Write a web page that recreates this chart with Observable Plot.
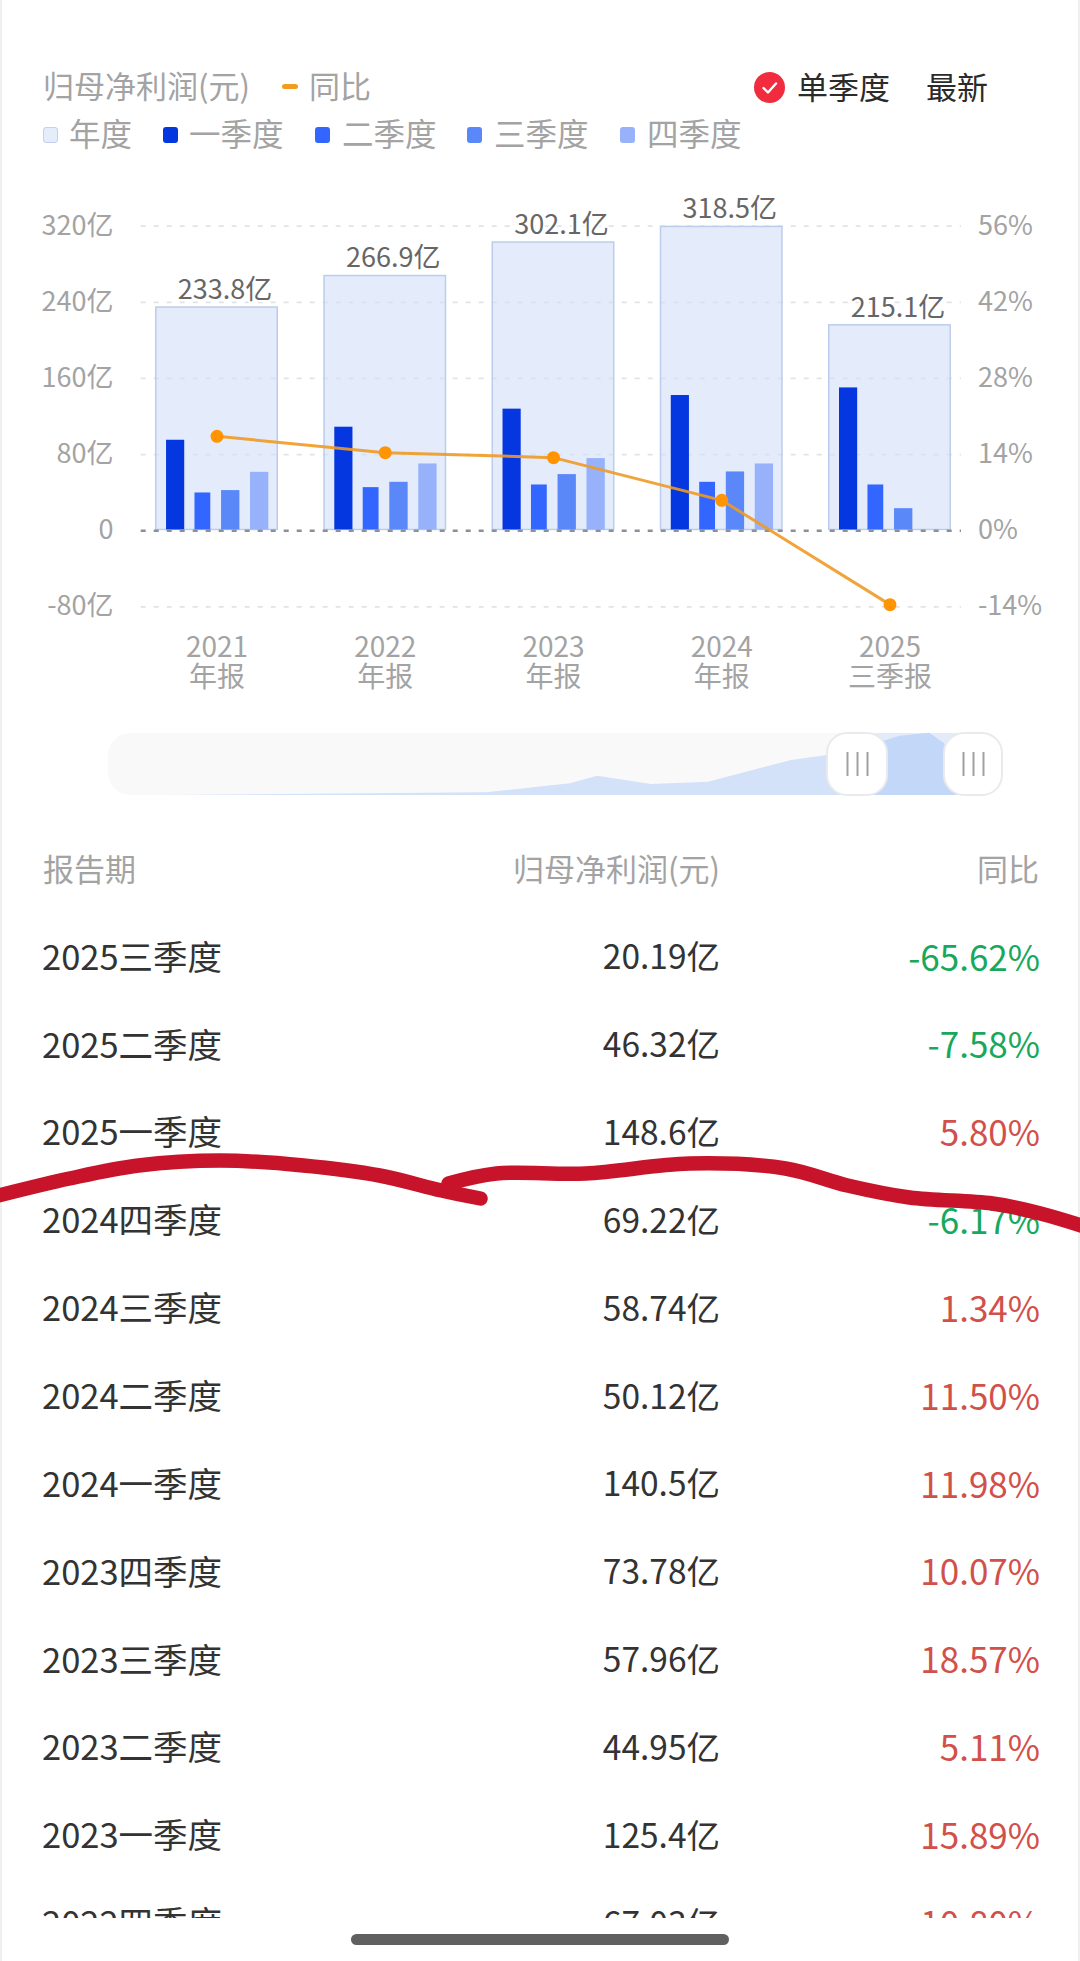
<!DOCTYPE html>
<html lang="zh">
<head>
<meta charset="utf-8">
<script src="https://cdn.jsdelivr.net/npm/d3@7"></script>
<script src="https://cdn.jsdelivr.net/npm/@observablehq/plot@0.6"></script>
<style>
html,body{margin:0;padding:0;background:#fff;}
body{position:relative;width:1080px;height:1961px;overflow:hidden;font-family:"Noto Sans CJK SC","Noto Sans",sans-serif;}
.abs{position:absolute;white-space:nowrap;line-height:1;}
.plot{position:absolute;display:block;}
svg{overflow:visible;}
</style>
</head>
<body>
<div id="page"></div>
<script>
// chart data
const years = ["2021","2022","2023","2024","2025"];
const reports = ["年报","年报","年报","年报","三季报"];
const yearTotals = [233.8,266.9,302.1,318.5,215.1];
const q1 = [94.3,108,127,141.3,149.3];
const q2 = [38.9,44.5,47.3,50.1,47.3];
const q3 = [41.4,50.1,58.2,61,22.4];
const q4 = [60.6,69.4,75,69.4,null];
const yoy = [17.36,14.35,13.43,5.58,-13.6];
const leftTicks = [-80,0,80,160,240,320];
const rightTicks = [-14,0,14,28,42,56];
// table data
const periods = ["2025三季度","2025二季度","2025一季度","2024四季度","2024三季度","2024二季度","2024一季度","2023四季度","2023三季度","2023二季度","2023一季度","2022四季度"];
const profits = ["20.19亿","46.32亿","148.6亿","69.22亿","58.74亿","50.12亿","140.5亿","73.78亿","57.96亿","44.95亿","125.4亿","67.03亿"];
const changes = ["-65.62%","-7.58%","5.80%","-6.17%","1.34%","11.50%","11.98%","10.07%","18.57%","5.11%","15.89%","10.80%"];
// range-slider overview silhouette
const navPos = [60,378,462,489,543,600,683,719,749,776,791,821,836,848];
const navVal = [0,2.7,11.7,19.3,11,13.3,35,40,47,54.3,59,62.3,51.7,0];
const navStart = 749, navEnd = 865;
// hand-drawn annotation
const scribbleAX = [-10,69,138,220,303,379,441,480];
const scribbleAY = [1197,1178,1165,1160,1165,1175,1190,1198];
const scribbleBX = [448,496,585,689,785,847,909,992,1040,1090];
const scribbleBY = [1183,1173,1173,1163,1168,1185,1197,1203,1213,1228];

const FONT = '"Noto Sans CJK SC","Noto Sans",sans-serif';
const page = document.getElementById("page");
function put(txt,o){
  const d=document.createElement("div");d.className="abs";d.textContent=txt;
  let s=`font-size:${o.size}px;color:${o.color};top:${o.cy-o.size/2}px;`;
  if(o.right!=null) s+=`right:${1080-o.right}px;`; else s+=`left:${o.left}px;`;
  d.style.cssText=s;page.appendChild(d);return d;
}
function box(css){const d=document.createElement("div");d.className="abs";d.style.cssText=css;page.appendChild(d);return d;}

// page edges
box("left:0;top:0;width:1.5px;height:1961px;background:#efefef");
box("left:1078px;top:0;width:1.5px;height:1961px;background:#efefef");

// header / legend
put("归母净利润(元)",{size:31,color:"#a3a3a3",left:43,cy:84});
box("left:282px;top:84px;width:16px;height:5px;border-radius:2.5px;background:#f39c1f");
put("同比",{size:31,color:"#a3a3a3",left:309,cy:84});
const badge=box("left:754px;top:72px;width:31px;height:31px;border-radius:50%;background:#f02c3e");
badge.innerHTML='<svg width="31" height="31" style="display:block"><polyline points="9.5,16 14,20.5 22,11.5" fill="none" stroke="#fff" stroke-width="2.4" stroke-linecap="round" stroke-linejoin="round"/></svg>';
put("单季度",{size:31,color:"#2b2b2b",left:797,cy:85.5});
put("最新",{size:31,color:"#2b2b2b",left:926,cy:85.5});
const legendNames=["年度","一季度","二季度","三季度","四季度"];
const legendColors=["#e5edfb","#0437e0","#3366ff","#5b88f8","#97b2fb"];
const legendSwatchX=[43,163,315,467,620];
const legendTextX=[69,189,342,494,647];
legendNames.forEach((n,i)=>{
  box(`left:${legendSwatchX[i]}px;top:127px;width:15px;height:16px;border-radius:3px;background:${legendColors[i]};box-sizing:border-box;${i==0?"border:1.5px solid #c0d0ee;":""}`);
  put(n,{size:31.5,color:"#a3a3a3",left:legendTextX[i],cy:133});
});

// main chart
const pctToY = p => p*320/56;
const rows = years.map((y,i)=>({i,total:yearTotals[i],q:[q1[i],q2[i],q3[i],q4[i]],yoy:yoy[i]}));
const qOffsets=[-0.30,-0.131,0.027,0.199];
const qWidths=[0.108,0.094,0.109,0.109];
const qColors=["#0437e0","#3366ff","#5b88f8","#97b2fb"];
const qData = rows.flatMap(r=>r.q.map((v,k)=>({i:r.i,k,v})).filter(d=>d.v!=null));
const yearHalf = 0.361;
const main = Plot.plot({
  width:1080,height:500,
  marginTop:25.7,marginBottom:93.7,marginLeft:140.7,marginRight:119,
  style:{fontFamily:FONT,background:"transparent",overflow:"visible"},
  x:{type:"linear",domain:[-0.5,4.5],range:[132.4,973.6]},
  y:{domain:[-80,320]},
  marks:[
    Plot.ruleY(leftTicks.filter(d=>d!==0),{stroke:"#e0e3e8",strokeWidth:1.8,strokeDasharray:"5 8"}),
    Plot.rectY(rows,{x1:d=>d.i-yearHalf,x2:d=>d.i+yearHalf,y1:0,y2:"total",dy:-0.7,fill:"#d3e0f9",fillOpacity:.62,stroke:"#bccdeb",strokeWidth:1.5}),
    Plot.rectY(qData,{x1:d=>d.i+qOffsets[d.k],x2:d=>d.i+qOffsets[d.k]+qWidths[d.k],y1:0,y2:"v",dy:-0.7,fill:d=>qColors[d.k],inset:0}),
    Plot.ruleY([0],{stroke:"#8b8f97",strokeWidth:2.6,strokeDasharray:"5 8"}),
    Plot.line(rows,{x:"i",y:d=>pctToY(d.yoy),stroke:"#ee9a26",strokeWidth:3,strokeOpacity:.9}),
    Plot.dot(rows,{x:"i",y:d=>pctToY(d.yoy),r:6.5,fill:"#ff9505",stroke:"none"}),
    Plot.text(rows,{x:"i",y:"total",text:d=>d.total.toFixed(1)+"亿",dx:8,dy:-18,fontSize:27,fill:"#666666",stroke:"#fff",strokeWidth:4,paintOrder:"stroke"}),
    Plot.axisY({anchor:"left",ticks:leftTicks,tickSize:0,tickPadding:27.7,fontSize:27,color:"#a3a3a3",label:null,tickFormat:d=>d===0?"0":d+"亿"}),
    Plot.axisY({anchor:"right",ticks:leftTicks,tickSize:0,tickPadding:16.5,fontSize:27,color:"#a3a3a3",label:null,tickFormat:d=>rightTicks[leftTicks.indexOf(d)]+"%"}),
    Plot.axisX({anchor:"bottom",ticks:[0,1,2,3,4],tickSize:0,tickPadding:29.5,fontSize:28,lineHeight:1.05,color:"#a3a3a3",label:null,tickFormat:d=>years[d]+"\n"+reports[d]})
  ]
});
main.classList.add("plot");main.style.left="0px";main.style.top="200px";
page.appendChild(main);

// range slider
const navRows = navPos.map((x,i)=>({x,v:navVal[i]}));
const handles=[{a:719,b:779},{a:836,b:894}];
const grips=handles.flatMap(h=>[-10,0,10].map(o=>(h.a+h.b)/2+o));
const nav = Plot.plot({
  width:900,height:66,marginTop:2,marginBottom:2,marginLeft:0,marginRight:0,
  style:{background:"transparent",overflow:"visible"},
  x:{domain:[0,900],axis:null},
  y:{domain:[0,62],axis:null},
  marks:[
    Plot.rect([0],{x1:0,x2:893,y1:0,y2:62,fill:"#f9f9fa",rx:22}),
    Plot.rect([0],{x1:navStart,x2:navEnd,y1:0,y2:62,fill:"#e3ebfa"}),
    Plot.areaY(navRows,{x:"x",y:"v",fill:"#d3e1f9"}),
    Plot.areaY(navRows.filter(d=>d.x>=navStart),{x:"x",y:"v",fill:"#c3d7f8"}),
    Plot.rect(handles,{x1:"a",x2:"b",y1:0,y2:62,fill:"#fff",stroke:"#e8eaec",strokeWidth:2,rx:20}),
    Plot.ruleX(grips,{y1:19,y2:43,stroke:"#a0a0a0",strokeWidth:2})
  ]
});
nav.classList.add("plot");nav.style.left="108px";nav.style.top="731px";
page.appendChild(nav);

// table
put("报告期",{size:31,color:"#a3a3a3",left:43,cy:867});
put("归母净利润(元)",{size:31,color:"#a3a3a3",right:720,cy:867});
put("同比",{size:31,color:"#a3a3a3",right:1039,cy:867});
const clip=box("left:0;top:900px;width:1080px;height:1018px;overflow:hidden");
periods.forEach((p,i)=>{
  const cy=55+87.85*i;
  const add=(t,size,css)=>{const d=document.createElement("div");d.className="abs";d.textContent=t;d.style.cssText=`font-size:${size}px;top:${cy-size/2}px;${css}`;clip.appendChild(d);};
  add(p,34.5,"left:42px;color:#333");
  add(profits[i],33.5,"right:360px;color:#333");
  add(changes[i],35,`right:40px;color:${changes[i][0]==="-"?"#17a85c":"#d2504a"}`);
});

// home indicator
box("left:351px;top:1934px;width:378px;height:11px;border-radius:5.5px;background:#606060");

// hand-drawn annotation over the table
const scribble=[
  ...scribbleAX.map((x,i)=>({s:"a",x,y:scribbleAY[i]})),
  ...scribbleBX.map((x,i)=>({s:"b",x,y:scribbleBY[i]}))
];
const ink = Plot.plot({
  width:1080,height:110,margin:0,
  style:{background:"transparent",overflow:"visible"},
  x:{domain:[0,1080],axis:null},
  y:{domain:[1250,1140],axis:null},
  marks:[Plot.line(scribble,{x:"x",y:"y",z:"s",curve:"catmull-rom",stroke:"#c8142a",strokeWidth:14.5,strokeLinecap:"round",strokeLinejoin:"round"})]
});
ink.classList.add("plot");ink.style.left="0px";ink.style.top="1140px";
page.appendChild(ink);
</script>
</body>
</html>
